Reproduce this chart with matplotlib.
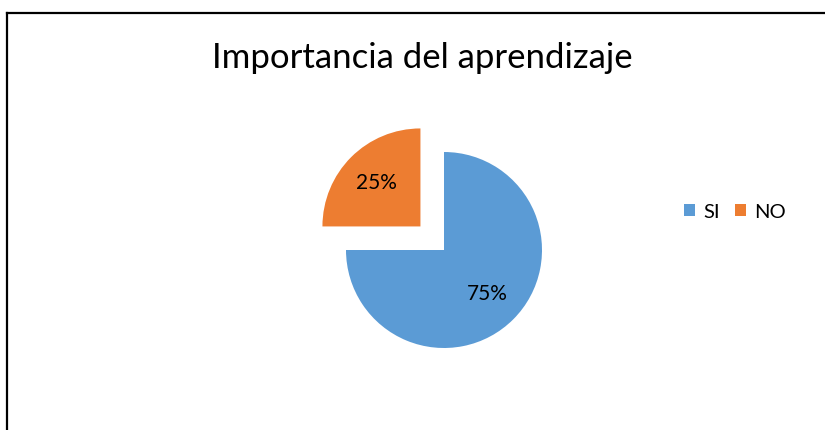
import matplotlib
matplotlib.use("Agg")
import matplotlib.pyplot as plt
from matplotlib.lines import Line2D
from matplotlib.patches import Patch

# data
labels = ["SI", "NO"]
values = [75, 25]
colors = ["#5B9BD5", "#ED7D31"]
explode = [0, 0.34]
title = "Importancia del aprendizaje"

plt.rcParams['font.family'] = ['Lato', 'DejaVu Sans']

W, H = 825, 430
fig = plt.figure(figsize=(W / 100, H / 100), dpi=100)

# pie axes: centre at (444, 250) px from top-left, radius 98 px
R = 98
cx, cy = 444, H - 250
box = 3 * R
ax = fig.add_axes([(cx - box / 2) / W, (cy - box / 2) / H, box / W, box / H])
wedges, texts, autotexts = ax.pie(values, colors=colors, explode=explode,
                                  startangle=90, counterclock=False,
                                  autopct='%1.0f%%', pctdistance=0.63,
                                  wedgeprops=dict(linewidth=0))
for t in autotexts:
    t.set_fontsize(15)
    t.set_color('#000000')
ax.set_xlim(-1.5, 1.5)
ax.set_ylim(-1.5, 1.5)
ax.set_aspect('equal')
ax.axis('off')

fig.text(422 / W, 1 - 58 / H, title, ha='center', va='center', fontsize=25)

handles = [Patch(facecolor=c, edgecolor='none') for c in colors]
fig.legend(handles, labels, loc='center left', bbox_to_anchor=(684 / W, 1 - 212 / H),
           ncol=2, frameon=False, fontsize=14.5, handlelength=0.55, handleheight=0.55,
           handletextpad=0.4, columnspacing=0.75, borderaxespad=0, borderpad=0)

# outer frame (top and left edges only are visible)
fig.add_artist(Line2D([7 / W, 1], [1 - 13 / H, 1 - 13 / H], color='black', lw=1.6))
fig.add_artist(Line2D([7 / W, 7 / W], [0, 1 - 13 / H], color='black', lw=1.6))

fig.savefig("out.png", dpi=100, facecolor='white')
